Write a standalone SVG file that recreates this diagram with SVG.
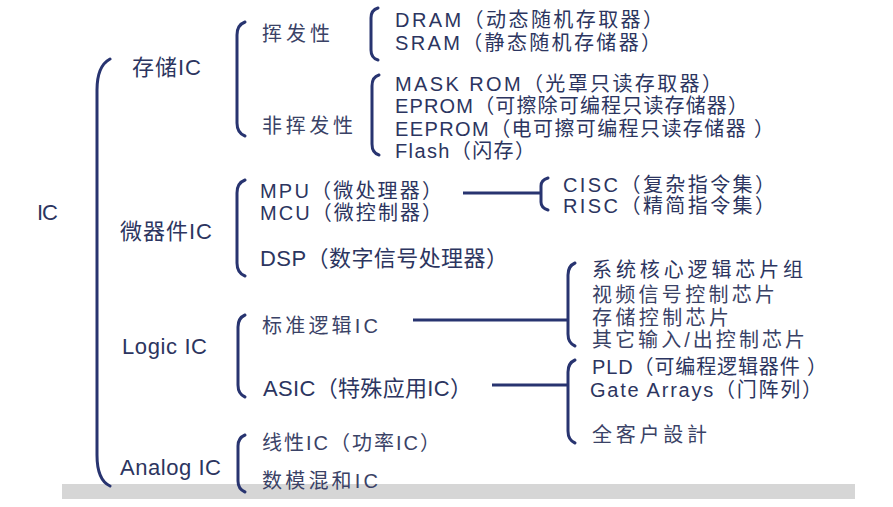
<svg xmlns="http://www.w3.org/2000/svg" width="893" height="507" viewBox="0 0 893 507">
<style>
.t{font-family:"Liberation Sans","Noto Sans CJK SC",sans-serif;fill:#2c3560;font-size:22px}
.s{font-family:"Liberation Sans","Noto Sans CJK SC",sans-serif;fill:#2c3560;font-size:20px}
.c{font-family:"Liberation Sans","Noto Sans CJK SC",sans-serif;fill:#3a4266;font-size:20px}
.b{fill:none;stroke:#283470;stroke-width:3;stroke-linecap:round}
.l{fill:none;stroke:#283470;stroke-width:3}
</style>
<rect width="893" height="507" fill="#ffffff"/>
<rect x="62" y="484" width="793" height="15" fill="#d6d6d6"/>
<g id="connectors">
<path class="b" d="M110,59 Q97,66 97,90 L97,455 Q97,480 110,486"/>
<path class="b" d="M245,22 Q237,25 237,35 L237,123 Q237,133 245,136"/>
<path class="b" d="M378,8 Q371,10 371,18 L371,50 Q371,58 378,60"/>
<path class="b" d="M379,75 Q372,77 372,86 L372,144 Q372,153 379,155"/>
<path class="b" d="M245,180 Q237,183 237,193 L237,263 Q237,273 245,276"/>
<path class="b" d="M548,178 Q541,180 541,186 L541,202 Q541,208 548,210"/>
<path class="b" d="M245,315 Q238,318 238,327 L238,385 Q238,394 245,397"/>
<path class="b" d="M575,263 Q568,266 568,275 L568,334 Q568,343 575,346"/>
<path class="b" d="M575,360 Q568,363 568,372 L568,431 Q568,440 575,443"/>
<path class="b" d="M245,435 Q238,438 238,446 L238,481 Q238,489 245,492"/>
<line class="l" x1="463" y1="193" x2="541" y2="193"/>
<line class="l" x1="413" y1="320" x2="568" y2="320"/>
<line class="l" x1="492" y1="385" x2="568" y2="385"/>
</g>
<g id="n-ic"><text class="t" x="37" y="220" textLength="21">IC</text></g>
<g id="n-storage"><text class="t" x="132" y="75" textLength="69">存储IC</text></g>
<g id="n-micro"><text class="t" x="120" y="239" textLength="92">微器件IC</text></g>
<g id="n-logic"><text class="t" x="122" y="354" textLength="85">Logic IC</text></g>
<g id="n-analog"><text class="t" x="120" y="475" textLength="101">Analog IC</text></g>
<g id="n-volatile"><text class="c" x="262" y="41" textLength="68">挥发性</text></g>
<g id="n-nonvolatile"><text class="c" x="262" y="133" textLength="91">非挥发性</text></g>
<g id="n-dram"><text class="s" x="395" y="27" textLength="268">DRAM（动态随机存取器）</text></g>
<g id="n-sram"><text class="s" x="395" y="50" textLength="266">SRAM（静态随机存储器）</text></g>
<g id="n-maskrom"><text class="s" x="395" y="91" textLength="327">MASK ROM（光罩只读存取器）</text></g>
<g id="n-eprom"><text class="s" x="395" y="113" textLength="353">EPROM（可擦除可编程只读存储器）</text></g>
<g id="n-eeprom"><text class="s" x="395" y="136" textLength="379">EEPROM（电可擦可编程只读存储器 ）</text></g>
<g id="n-flash"><text class="s" x="395" y="158" textLength="140">Flash（闪存）</text></g>
<g id="n-mpu"><text class="s" x="260" y="198" textLength="182">MPU（微处理器）</text></g>
<g id="n-mcu"><text class="s" x="260" y="220" textLength="182">MCU（微控制器）</text></g>
<g id="n-dsp"><text class="t" x="260" y="266" textLength="248">DSP（数字信号处理器）</text></g>
<g id="n-cisc"><text class="s" x="563" y="192" textLength="212">CISC（复杂指令集）</text></g>
<g id="n-risc"><text class="s" x="563" y="213" textLength="212">RISC（精简指令集）</text></g>
<g id="n-std"><text class="c" x="262" y="333" textLength="116">标准逻辑IC</text></g>
<g id="n-asic"><text class="t" x="263" y="396" textLength="209">ASIC（特殊应用IC）</text></g>
<g id="n-chipset"><text class="s" x="592" y="277" textLength="211">系统核心逻辑芯片组</text></g>
<g id="n-video"><text class="c" x="592" y="302" textLength="183">视频信号控制芯片</text></g>
<g id="n-memctl"><text class="c" x="592" y="325" textLength="137">存储控制芯片</text></g>
<g id="n-io"><text class="c" x="592" y="347" textLength="213">其它输入/出控制芯片</text></g>
<g id="n-pld"><text class="s" x="592" y="374" textLength="235">PLD（可编程逻辑器件 ）</text></g>
<g id="n-gate"><text class="s" x="590" y="397" textLength="232">Gate Arrays（门阵列）</text></g>
<g id="n-full"><text class="c" x="592" y="442" textLength="115">全客户設計</text></g>
<g id="n-linear"><text class="c" x="262" y="450" textLength="178">线性IC（功率IC）</text></g>
<g id="n-mixed"><text class="c" x="262" y="488" textLength="116">数模混和IC</text></g>
</svg>
